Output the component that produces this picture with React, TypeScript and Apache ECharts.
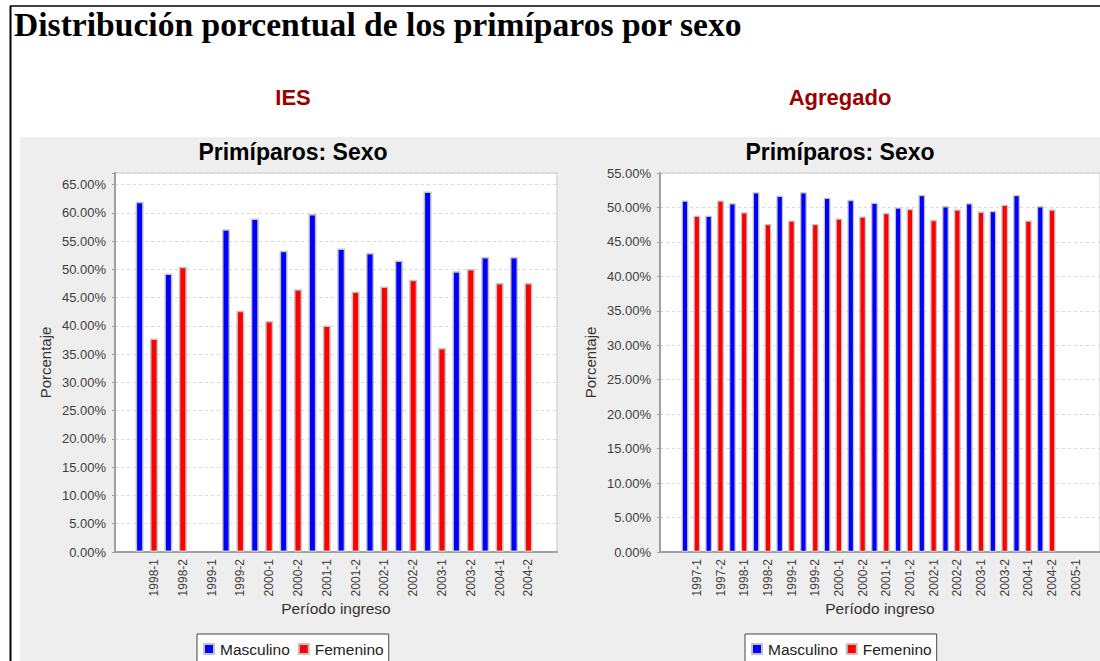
import React, { useEffect, useRef } from "react";
import * as echarts from "echarts";

// ---- Data ----
const mainTitle = "Distribución porcentual de los primíparos por sexo";
const leftHeader = "IES";
const rightHeader = "Agregado";
const chartTitle = "Primíparos: Sexo";
const xName = "Período ingreso";
const yName = "Porcentaje";
const seriesNames = ["Masculino", "Femenino"];

const iesPeriods = [
  "1998-1", "1998-2", "1999-1", "1999-2", "2000-1", "2000-2", "2001-1",
  "2001-2", "2002-1", "2002-2", "2003-1", "2003-2", "2004-1", "2004-2",
];
const iesMasculino = [62.0, 49.3, null, 57.1, 59.0, 53.3, 59.8, 53.7, 52.9, 51.6, 63.8, 49.7, 52.2, 52.2];
const iesFemenino = [37.8, 50.5, null, 42.7, 40.9, 46.5, 40.1, 46.1, 47.0, 48.2, 36.1, 50.1, 47.6, 47.6];

const aggPeriods = [
  "1997-1", "1997-2", "1998-1", "1998-2", "1999-1", "1999-2", "2000-1", "2000-2",
  "2001-1", "2001-2", "2002-1", "2002-2", "2003-1", "2003-2", "2004-1", "2004-2", "2005-1",
];
const aggMasculino = [51.0, 48.8, 50.6, 52.2, 51.7, 52.2, 51.4, 51.1, 50.7, 50.0, 51.8, 50.2, 50.6, 49.5, 51.8, 50.2, null];
const aggFemenino = [48.8, 51.0, 49.3, 47.6, 48.1, 47.6, 48.4, 48.7, 49.2, 49.8, 48.2, 49.7, 49.4, 50.4, 48.1, 49.7, null];

const iesYMax = 67.07;
const aggYMax = 55;
const yStep = 5;

// ---- Styles ----
const SANS = '"Liberation Sans", Arial, sans-serif';
const SERIF = '"Liberation Serif", "Times New Roman", serif';
const BLUE = "#0000ff";
const RED = "#ff0000";
const AXIS_GRAY = "#a0a0a0";

const tickFmt = (v: number) =>
  Math.abs(v / yStep - Math.round(v / yStep)) < 1e-6 ? v.toFixed(2) + "%" : "";

function boxAxes(gridIndex: number, max: number) {
  const x = {
    gridIndex,
    type: "value",
    min: 0,
    max: 1,
    axisLine: { show: true, onZero: false, lineStyle: { color: AXIS_GRAY, width: 2 } },
    axisTick: { show: false },
    axisLabel: { show: false },
    splitLine: { show: false },
    name: xName,
    nameLocation: "middle",
    nameGap: 48,
    nameTextStyle: { fontFamily: SANS, fontSize: 15.5, color: "#333" },
  };
  const y = {
    gridIndex,
    type: "value",
    min: 0,
    max,
    interval: yStep,
    axisLine: { show: true, onZero: false, lineStyle: { color: AXIS_GRAY, width: 2 } },
    axisTick: { show: true, length: 3, lineStyle: { color: AXIS_GRAY } },
    axisLabel: {
      formatter: tickFmt,
      margin: 9,
      fontFamily: SANS,
      fontSize: 13,
      color: "#404040",
    },
    splitLine: { show: true, lineStyle: { color: "#d9d9d9", type: [3, 3], width: 1 } },
    name: yName,
    nameLocation: "middle",
    nameGap: 62,
    nameRotate: 90,
    nameTextStyle: { fontFamily: SANS, fontSize: 15, color: "#333" },
  };
  return { x, y };
}

function innerAxes(gridIndex: number, cats: string[], max: number) {
  const x = {
    gridIndex,
    type: "category",
    data: cats,
    boundaryGap: true,
    axisLine: { show: false },
    axisTick: { show: false },
    splitLine: { show: false },
    axisLabel: {
      rotate: 90,
      interval: 0,
      margin: 7,
      fontFamily: SANS,
      fontSize: 12,
      color: "#404040",
    },
  };
  const y = { gridIndex, type: "value", min: 0, max, show: false, splitLine: { show: false } };
  return { x, y };
}

function barSeries(
  axisIndex: number,
  masc: (number | null)[],
  fem: (number | null)[],
  cats: string[],
  barWidth: number,
  barGap: string,
  border: number
) {
  const common = {
    type: "bar",
    xAxisIndex: axisIndex,
    yAxisIndex: axisIndex,
    barWidth,
    barGap,
    clip: false,
  };
  return [
    { ...common, name: seriesNames[0], data: masc, itemStyle: { color: BLUE, borderColor: "#c4c4c4", borderWidth: border } },
    { ...common, name: seriesNames[1], data: fem, itemStyle: { color: RED, borderColor: "#c4c4c4", borderWidth: border } },
    // empty slot so that the Femenino bar sits on the category centre
    { ...common, name: "_slot", data: cats.map(() => null), itemStyle: { color: "transparent" } },
  ];
}

function legendAt(left: number) {
  return {
    left,
    top: 634,
    data: seriesNames,
    icon: "rect",
    itemWidth: 10,
    itemHeight: 10,
    itemGap: 8,
    padding: [7, 5, 9, 6],
    backgroundColor: "#ffffff",
    borderColor: "#444",
    borderWidth: 1,
    borderRadius: 0,
    selectedMode: false,
    textStyle: { fontFamily: SANS, fontSize: 15.5, color: "#222", padding: [0, 0, 0, 1] },
  };
}

export default function App() {
  const ref = useRef<HTMLDivElement>(null);
  useEffect(() => {
    document.body.style.margin = "0";
    if (!ref.current) return;
    const chart = echarts.init(ref.current, undefined, { renderer: "svg" });

    const lb = boxAxes(0, iesYMax);
    const li = innerAxes(1, iesPeriods, iesYMax);
    const rb = boxAxes(2, aggYMax);
    const ri = innerAxes(3, aggPeriods, aggYMax);

    const option: any = {
      animation: false,
      backgroundColor: "#ffffff",
      graphic: [
        { type: "rect", z: -10, shape: { x: 20, y: 137, width: 1080, height: 524 }, style: { fill: "#eeeeee" } },
        { type: "line", z: 5, shape: { x1: 10, y1: 6, x2: 1100, y2: 6 }, style: { stroke: "#000", lineWidth: 1.5 } },
        { type: "line", z: 5, shape: { x1: 10.5, y1: 6, x2: 10.5, y2: 661 }, style: { stroke: "#000", lineWidth: 2 } },
        {
          type: "text", x: 14, y: 24,
          style: { text: mainTitle, fontFamily: SERIF, fontWeight: "bold", fontSize: 33.6, fill: "#000", verticalAlign: "middle", align: "left" },
        },
        {
          type: "text", x: 293, y: 97,
          style: { text: leftHeader, fontFamily: SANS, fontWeight: "bold", fontSize: 22, fill: "#990000", verticalAlign: "middle", align: "center" },
        },
        {
          type: "text", x: 840, y: 97,
          style: { text: rightHeader, fontFamily: SANS, fontWeight: "bold", fontSize: 22, fill: "#990000", verticalAlign: "middle", align: "center" },
        },
        {
          type: "text", x: 293, y: 152,
          style: { text: chartTitle, fontFamily: SANS, fontWeight: "bold", fontSize: 23, fill: "#000", verticalAlign: "middle", align: "center" },
        },
        {
          type: "text", x: 840, y: 152,
          style: { text: chartTitle, fontFamily: SANS, fontWeight: "bold", fontSize: 23, fill: "#000", verticalAlign: "middle", align: "center" },
        },
      ],
      grid: [
        { left: 115, top: 173, width: 442, height: 379, show: true, backgroundColor: "#ffffff", borderColor: "#c8c8c8", borderWidth: 1 },
        { left: 139.6, top: 173, width: 403.2, height: 379 },
        { left: 660, top: 173, width: 444, height: 379, show: true, backgroundColor: "#ffffff", borderColor: "#c8c8c8", borderWidth: 1 },
        { left: 685, top: 173, width: 402.6, height: 379 },
      ],
      xAxis: [lb.x, li.x, rb.x, ri.x],
      yAxis: [lb.y, li.y, rb.y, ri.y],
      legend: [legendAt(197), legendAt(745)],
      series: [
        ...barSeries(1, iesMasculino, iesFemenino, iesPeriods, 8, "80%", 1.5),
        ...barSeries(3, aggMasculino, aggFemenino, aggPeriods, 6.8, "74%", 1.3),
      ],
    };
    chart.setOption(option);
    return () => chart.dispose();
  }, []);
  return <div ref={ref} style={{ width: 1100, height: 661 }} />;
}
